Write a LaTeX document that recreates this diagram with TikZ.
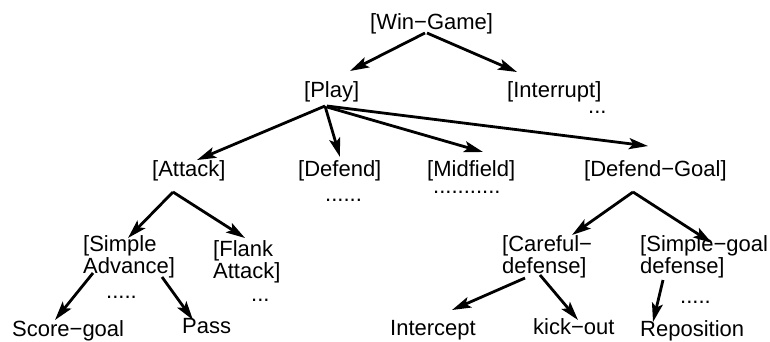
\documentclass[tikz,border=0pt]{standalone}
\usepackage{fontspec}
\setmainfont{Liberation Sans}
\usetikzlibrary{arrows.meta}
\begin{document}
\begin{tikzpicture}[x=1pt,y=-1pt,
    lbl/.style={inner sep=0pt,anchor=base west,align=left,font=\fontsize{22}{22}\selectfont},
    arr/.style={-{Stealth[length=19pt,width=11pt,inset=4pt]},line width=2.8pt}]
  \useasboundingbox (0,0) rectangle (770,341);
  \node[lbl] (win) at (370,29.5) {[Win−Game]};
  \node[lbl] (play) at (304,97) {[Play]};
  \node[lbl] (intr) at (507,97) {[Interrupt]};
  \node[lbl] (intrdots) at (588,113) {...};
  \node[lbl] (attack) at (152,176) {[Attack]};
  \node[lbl] (defend) at (298,176) {[Defend]};
  \node[lbl] (defenddots) at (325,201) {......};
  \node[lbl] (mid) at (427,176) {[Midfield]};
  \node[lbl] (middots) at (433,193) {...........};
  \node[lbl] (dgoal) at (584,176) {[Defend−Goal]};
  \node[lbl] (sadv) at (83,273) {[Simple\\Advance]};
  \node[lbl] (sadvdots) at (106,298) {.....};
  \node[lbl] (flank) at (213,278) {[Flank\\Attack]};
  \node[lbl] (flankdots) at (251,301) {...};
  \node[lbl] (care) at (502,273) {[Careful−\\defense]};
  \node[lbl] (sgoal) at (640,273) {[Simple−goal\\defense]};
  \node[lbl] (sgoaldots) at (680,303) {.....};
  \node[lbl] (score) at (12,336) {Score−goal};
  \node[lbl] (pass) at (182,333) {Pass};
  \node[lbl] (inter) at (390,335) {Intercept};
  \node[lbl] (kick) at (533,334) {kick−out};
  \node[lbl] (repo) at (640,336) {Reposition};
  \draw[arr] ([shift={(55,3.5)}]win.base west) -- ([shift={(46,-26)}]play.base west);
  \draw[arr] ([shift={(57,3.5)}]win.base west) -- ([shift={(10,-25)}]intr.base west);
  \draw[arr] ([shift={(21,9)}]play.base west) -- ([shift={(45,-16)}]attack.base west);
  \draw[arr] ([shift={(21,9)}]play.base west) -- ([shift={(42,-19)}]defend.base west);
  \draw[arr] ([shift={(23,10)}]play.base west) -- ([shift={(56,-24)}]mid.base west);
  \draw[arr] ([shift={(23,9)}]play.base west) -- ([shift={(64,-30)}]dgoal.base west);
  \draw[arr] ([shift={(21,16)}]attack.base west) -- ([shift={(45,-35)}]sadv.base west);
  \draw[arr] ([shift={(21,16)}]attack.base west) -- ([shift={(32,-40)}]flank.base west);
  \draw[arr] ([shift={(10,0)}]sadv.base west) -- ([shift={(43,-16)}]score.base west);
  \draw[arr] ([shift={(79,4)}]sadv.base west) -- ([shift={(11,-13)}]pass.base west);
  \draw[arr] ([shift={(49,16)}]dgoal.base west) -- ([shift={(70,-38)}]care.base west);
  \draw[arr] ([shift={(49,16)}]dgoal.base west) -- ([shift={(72,-30)}]sgoal.base west);
  \draw[arr] ([shift={(23,5)}]care.base west) -- ([shift={(62,-25)}]inter.base west);
  \draw[arr] ([shift={(38,2)}]care.base west) -- ([shift={(45,-14)}]kick.base west);
  \draw[arr] ([shift={(23,7)}]sgoal.base west) -- ([shift={(13,-14)}]repo.base west);
\end{tikzpicture}
\end{document}
